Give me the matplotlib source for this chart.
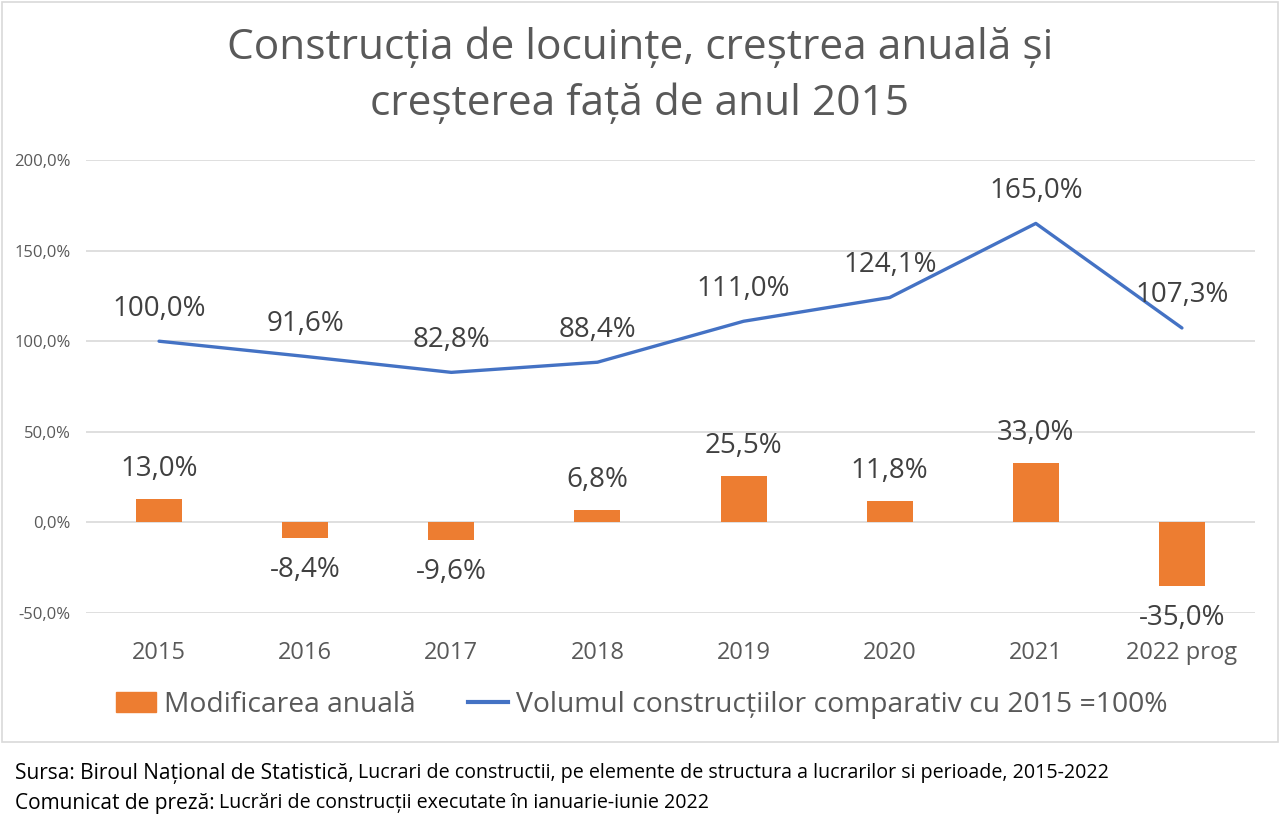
import matplotlib
matplotlib.use("Agg")
import matplotlib.pyplot as plt
from matplotlib import font_manager
from matplotlib.patches import Rectangle
from matplotlib.lines import Line2D

years = ["2015", "2016", "2017", "2018", "2019", "2020", "2021", "2022 prog"]
annual_change = [13.0, -8.4, -9.6, 6.8, 25.5, 11.8, 33.0, -35.0]
volume_vs_2015 = [100.0, 91.6, 82.8, 88.4, 111.0, 124.1, 165.0, 107.3]
yticks = [-50, 0, 50, 100, 150, 200]

names = {f.name for f in font_manager.fontManager.ttflist}
MAIN = "Open Sans"
NARROW = "Liberation Sans Narrow" if "Liberation Sans Narrow" in names else "Open Sans"
plt.rcParams["font.family"] = [MAIN, "DejaVu Sans"]

ORANGE = "#ED7D31"
BLUE = "#4472C4"
GRAY = "#595959"
DARK = "#404040"

def pct(v):
    return f"{v:.1f}".replace(".", ",") + "%"

fig = plt.figure(figsize=(12.8, 8.25), dpi=100)
fig.patch.set_facecolor("white")
# chart border
fig.add_artist(Rectangle((2/1280, 1 - 742/825), 1276/1280, 740/825, transform=fig.transFigure,
                         fill=False, edgecolor="#D9D9D9", linewidth=1.2))

ax = fig.add_axes([86/1280, 1 - 613/825, (1255-86)/1280, (613-160)/825])
x = list(range(len(years)))
ax.bar(x, annual_change, width=0.315, color=ORANGE, zorder=2)
ax.plot(x, volume_vs_2015, color=BLUE, linewidth=2.4, zorder=3, solid_capstyle="round")
ax.set_xlim(-0.5, len(years) - 0.5)
ax.set_ylim(-50, 200)
ax.set_yticks(yticks)
ax.set_yticklabels([pct(v) for v in yticks], color=GRAY, fontsize=12)
ax.set_xticks(x)
ax.set_xticklabels(years, color=GRAY, fontsize=17)
ax.tick_params(axis="both", length=0)
ax.tick_params(axis="y", pad=11)
ax.tick_params(axis="x", pad=20)
ax.grid(axis="y", color="#D9D9D9", linewidth=1.2, zorder=0)
for s in ax.spines.values():
    s.set_visible(False)

for xi, v in zip(x, volume_vs_2015):
    ax.annotate(pct(v), (xi, v), xytext=(0, 23.5), textcoords="offset points",
                ha="center", va="center", fontsize=20, color=DARK, zorder=4)
for xi, v in zip(x, annual_change):
    off = 21.5 if v >= 0 else -23.5
    ax.annotate(pct(v), (xi, v), xytext=(0, off), textcoords="offset points",
                ha="center", va="center", fontsize=20, color=DARK, zorder=4)

fig.text(0.5, 1 - 76/825, "Construcția de locuințe, creștrea anuală și\ncreșterea față de anul 2015",
         ha="center", va="center", fontsize=30.5, color=GRAY, linespacing=1.45)

handles = [Rectangle((0, 0), 1, 1, color=ORANGE),
           Line2D([0], [0], color=BLUE, linewidth=3)]
fig.legend(handles, ["Modificarea anuală", "Volumul construcțiilor comparativ cu 2015 =100%"],
           loc="center", bbox_to_anchor=(642/1280, 1 - 705/825), ncol=2, frameon=False,
           fontsize=20.3, labelcolor=GRAY, handlelength=1.4, handleheight=0.72,
           handletextpad=0.3, columnspacing=1.85)

# footnotes with mixed sizes
fig.canvas.draw()
r = fig.canvas.get_renderer()
def two_part(y, a, b, sa, sb):
    t1 = fig.text(15/1280, y, a, fontsize=sa, family=[NARROW, "DejaVu Sans"], color="black", va="center")
    bb = t1.get_window_extent(renderer=r)
    fig.text(bb.x1 / 1280 + 4/1280, y, b, fontsize=sb, family=[NARROW, "DejaVu Sans"], color="black", va="center")
two_part(1 - 773/825, "Sursa: Biroul Național de Statistică,",
         "Lucrari de constructii, pe elemente de structura a lucrarilor si perioade, 2015-2022", 15, 14.1)
two_part(1 - 803/825, "Comunicat de preză:",
         "Lucrări de construcții executate în ianuarie-iunie 2022", 15, 14.1)

fig.savefig("out.png", dpi=100, facecolor="white")
